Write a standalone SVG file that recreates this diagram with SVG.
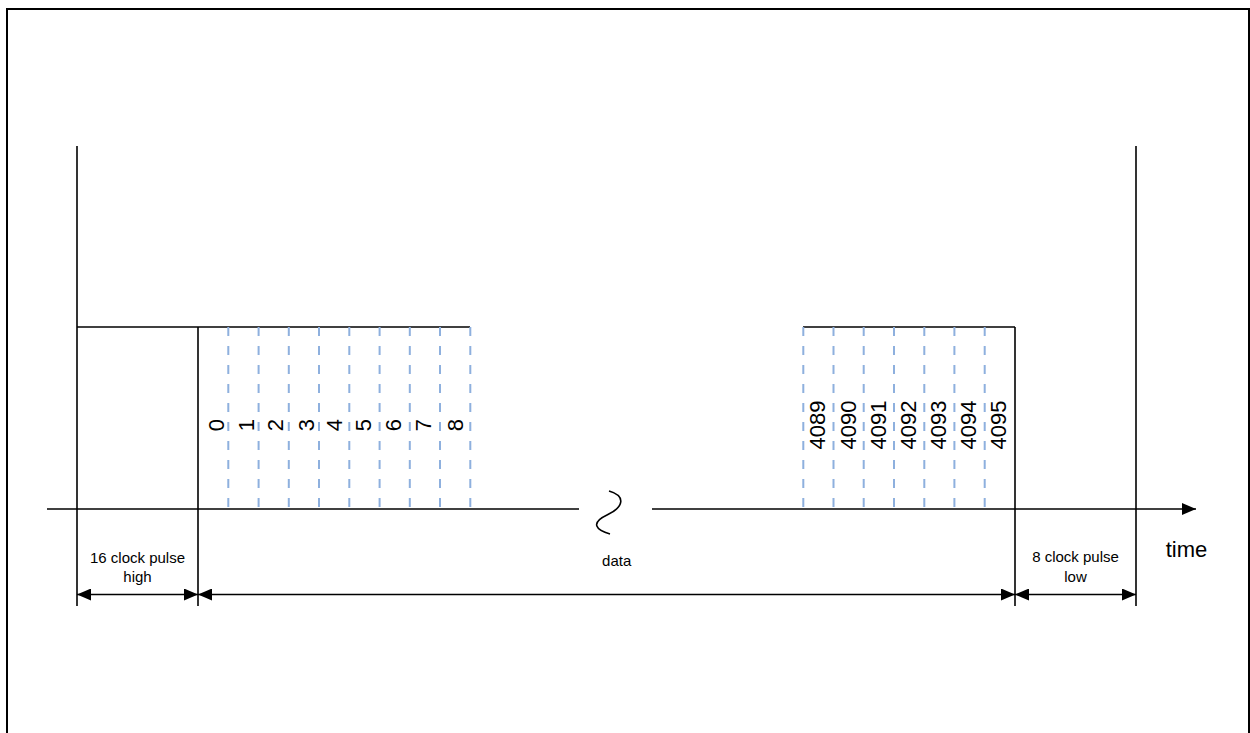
<svg xmlns="http://www.w3.org/2000/svg" width="1250" height="733" viewBox="0 0 1250 733">
<style>
.ln{stroke:#000;stroke-width:1.6;fill:none}
.dash{stroke:#8EB0DE;stroke-width:2;stroke-dasharray:9,10;fill:none}
.num{font-family:"Liberation Sans",Arial,sans-serif;font-size:22px;fill:#000;text-anchor:middle}
.lbl{font-family:"Liberation Sans",Arial,sans-serif;font-size:15px;fill:#000;text-anchor:middle}
.big{font-family:"Liberation Sans",Arial,sans-serif;font-size:22px;fill:#000;text-anchor:middle}
</style>
<defs>
<marker id="ah" markerUnits="userSpaceOnUse" markerWidth="14" markerHeight="12" refX="14" refY="6" orient="auto-start-reverse">
<path d="M0,0 L14,6 L0,12 Z" fill="#000"/>
</marker>
</defs>
<rect x="0" y="0" width="1250" height="733" fill="#fff"/>
<rect x="7" y="9" width="1242" height="740" fill="none" stroke="#000" stroke-width="2"/>

<g id="axes">
<line class="ln" x1="77" y1="146" x2="77" y2="606"/>
<line class="ln" x1="1136" y1="146" x2="1136" y2="606"/>
<line class="ln" x1="47" y1="509" x2="579" y2="509"/>
<line class="ln" x1="652" y1="509" x2="1196" y2="509" marker-end="url(#ah)"/>
<path class="ln" d="M609,491 C626,496 624,507 607,515 C590,523 596,530 610,534"/>
</g>

<g id="signal">
<line class="ln" x1="77" y1="327" x2="470" y2="327"/>
<line class="ln" x1="198" y1="327" x2="198" y2="606"/>
<line class="ln" x1="803" y1="327" x2="1015" y2="327"/>
<line class="ln" x1="1015" y1="327" x2="1015" y2="606"/>
</g>

<g id="bits-start">
<line class="dash" x1="228.3" y1="327" x2="228.3" y2="509"/>
<line class="dash" x1="258.6" y1="327" x2="258.6" y2="509"/>
<line class="dash" x1="288.8" y1="327" x2="288.8" y2="509"/>
<line class="dash" x1="319" y1="327" x2="319" y2="509"/>
<line class="dash" x1="349.3" y1="327" x2="349.3" y2="509"/>
<line class="dash" x1="379.6" y1="327" x2="379.6" y2="509"/>
<line class="dash" x1="409.8" y1="327" x2="409.8" y2="509"/>
<line class="dash" x1="440" y1="327" x2="440" y2="509"/>
<line class="dash" x1="470.3" y1="327" x2="470.3" y2="509"/>
<text class="num" transform="translate(224,425) rotate(-90)">0</text>
<text class="num" transform="translate(253.5,425) rotate(-90)">1</text>
<text class="num" transform="translate(283,425) rotate(-90)">2</text>
<text class="num" transform="translate(313.5,425) rotate(-90)">3</text>
<text class="num" transform="translate(342,425) rotate(-90)">4</text>
<text class="num" transform="translate(371,425) rotate(-90)">5</text>
<text class="num" transform="translate(401,425) rotate(-90)">6</text>
<text class="num" transform="translate(430.5,425) rotate(-90)">7</text>
<text class="num" transform="translate(463.3,425) rotate(-90)">8</text>
</g>

<g id="bits-end">
<line class="dash" x1="803.3" y1="327" x2="803.3" y2="509"/>
<line class="dash" x1="833.5" y1="327" x2="833.5" y2="509"/>
<line class="dash" x1="863.7" y1="327" x2="863.7" y2="509"/>
<line class="dash" x1="894" y1="327" x2="894" y2="509"/>
<line class="dash" x1="924.3" y1="327" x2="924.3" y2="509"/>
<line class="dash" x1="954.4" y1="327" x2="954.4" y2="509"/>
<line class="dash" x1="984.7" y1="327" x2="984.7" y2="509"/>
<text class="num" transform="translate(825,425) rotate(-90)">4089</text>
<text class="num" transform="translate(856,425) rotate(-90)">4090</text>
<text class="num" transform="translate(885.7,425) rotate(-90)">4091</text>
<text class="num" transform="translate(916.3,425) rotate(-90)">4092</text>
<text class="num" transform="translate(945.7,425) rotate(-90)">4093</text>
<text class="num" transform="translate(976.3,425) rotate(-90)">4094</text>
<text class="num" transform="translate(1006.3,425) rotate(-90)">4095</text>
</g>

<g id="connectors">
<line class="ln" x1="77" y1="594.5" x2="198" y2="594.5" marker-start="url(#ah)" marker-end="url(#ah)"/>
<line class="ln" x1="198" y1="594.5" x2="1015" y2="594.5" marker-start="url(#ah)" marker-end="url(#ah)"/>
<line class="ln" x1="1015" y1="594.5" x2="1136" y2="594.5" marker-start="url(#ah)" marker-end="url(#ah)"/>
</g>

<g id="labels">
<text class="lbl" x="137.5" y="563">16 clock pulse</text>
<text class="lbl" x="137.5" y="582">high</text>
<text class="lbl" x="616.7" y="566">data</text>
<text class="lbl" x="1075.5" y="562">8 clock pulse</text>
<text class="lbl" x="1075.5" y="582">low</text>
<text class="big" x="1186.5" y="557">time</text>
</g>
</svg>
